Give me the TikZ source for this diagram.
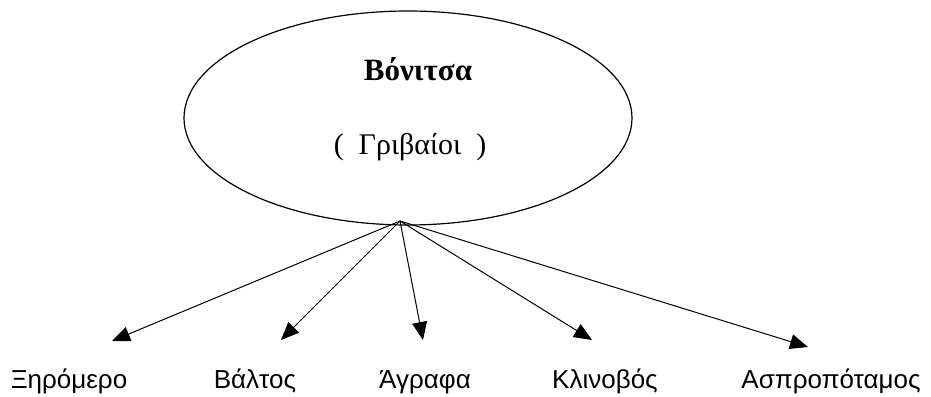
\documentclass[tikz,border=0pt]{standalone}
\usepackage{fontspec}
\setmainfont{Liberation Serif}
\newfontfamily\labelfont{Liberation Sans}
\usetikzlibrary{arrows.meta,positioning,shapes.geometric}
\tikzset{
    region style/.style={draw,ellipse,line width=1.2pt,minimum width=448pt,minimum height=214pt,inner sep=0pt},
    title text/.style={font=\fontsize{31}{34}\selectfont\bfseries,anchor=base},
    sub text/.style={font=\fontsize{30}{34}\selectfont,anchor=base},
    area label/.style={font=\labelfont\fontsize{26}{30}\selectfont,inner sep=0pt,anchor=base},
    arr/.style={-{Triangle[length=18pt,width=15pt]},line width=1pt},
}

\begin{document}
\begin{tikzpicture}[x=1pt,y=-1pt]
    \useasboundingbox (0,0) rectangle (931,396);

    \node[region style] (vonitsa) at (408,118) {};
    \node[title text] (name) at (418,81) {Βόνιτσα};
    \node[sub text] (sub) at (410,154) {(\ \ Γριβαίοι\ \ )};

    \coordinate (hub) at (400,221);

    % areas below
    \node[area label] (xiromero) at (69,388) {Ξηρόμερο};
    \node[area label] (valtos) at (255,388) {Βάλτος};
    \node[area label] (agrafa) at (425,388) {Άγραφα};
    \node[area label] (klinovos) at (605,388) {Κλινοβός};
    \node[area label] (aspro) at (831,388) {Ασπροπόταμος};

    \coordinate (t1) at (112,341);
    \coordinate (t2) at (281,340);
    \coordinate (t3) at (423,340);
    \coordinate (t4) at (592,340);
    \coordinate (t5) at (808,347);

    \foreach \t in {t1,t2,t3,t4,t5}
        \draw[arr] (hub) -- (\t);
\end{tikzpicture}
\end{document}
